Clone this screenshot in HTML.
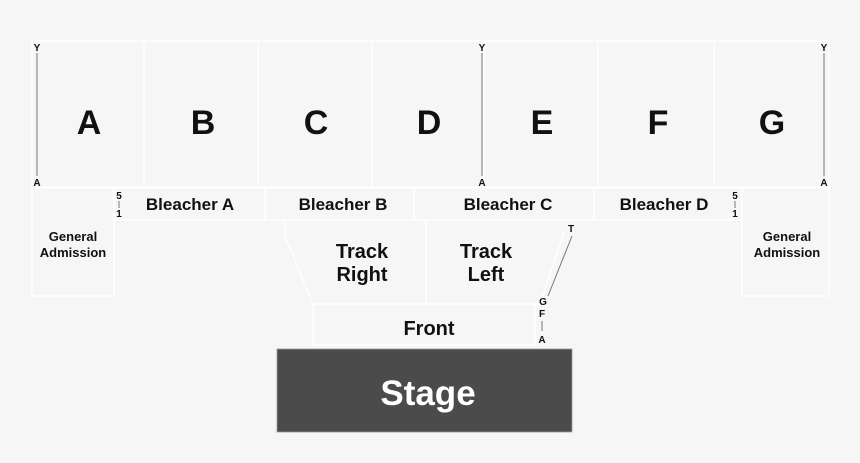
<!DOCTYPE html>
<html><head><style>
html,body{margin:0;padding:0;background:#f6f6f6;}
svg{display:block;}
text{font-family:"Liberation Sans",Arial,sans-serif;font-weight:bold;fill:#111;}
</style></head><body>
<svg width="860" height="463" viewBox="0 0 860 463" xmlns="http://www.w3.org/2000/svg">
<rect width="860" height="463" fill="#f6f6f6"/>
<g fill="none" stroke="#ffffff" stroke-width="1.3">
<rect x="32" y="41" width="797" height="146"/>
<line x1="144" y1="41" x2="144" y2="187"/>
<line x1="258" y1="41" x2="258" y2="187"/>
<line x1="372" y1="41" x2="372" y2="187"/>
<line x1="484" y1="41" x2="484" y2="187"/>
<line x1="598" y1="41" x2="598" y2="187"/>
<line x1="714" y1="41" x2="714" y2="187"/>
<rect x="32" y="188" width="82" height="108"/>
<rect x="742" y="188" width="87" height="108"/>
<rect x="114" y="188" width="628" height="32"/>
<line x1="265" y1="188" x2="265" y2="220"/>
<line x1="414" y1="188" x2="414" y2="220"/>
<line x1="594" y1="188" x2="594" y2="220"/>
<polyline points="285,220 285,236 313,304 426,304 426,220"/>
<polyline points="426,304 540,304 565,230"/>
<rect x="313" y="304" width="222" height="41"/>
</g>
<g stroke="#777" stroke-width="1">
<line x1="37" y1="53" x2="37" y2="176"/>
<line x1="482" y1="53" x2="482" y2="176"/>
<line x1="824" y1="53" x2="824" y2="176"/>
<line x1="119" y1="201" x2="119" y2="208"/>
<line x1="735" y1="201" x2="735" y2="208"/>
<line x1="572" y1="236" x2="548" y2="296"/>
<line x1="542" y1="321" x2="542" y2="331"/>
</g>
<g font-size="10" text-anchor="middle">
<text x="37" y="51">Y</text><text x="37" y="186">A</text>
<text x="482" y="51">Y</text><text x="482" y="186">A</text>
<text x="824" y="51">Y</text><text x="824" y="186">A</text>
<text x="119" y="199">5</text><text x="119" y="217">1</text>
<text x="735" y="199">5</text><text x="735" y="217">1</text>
<text x="571" y="232">T</text>
<text x="543" y="305">G</text><text x="542" y="317">F</text><text x="542" y="343">A</text>
</g>
<g font-size="34" text-anchor="middle">
<text x="89" y="134">A</text><text x="203" y="134">B</text><text x="316" y="134">C</text>
<text x="429" y="134">D</text><text x="542" y="134">E</text><text x="658" y="134">F</text><text x="772" y="134">G</text>
</g>
<g font-size="17" text-anchor="middle">
<text x="190" y="210">Bleacher A</text><text x="343" y="210">Bleacher B</text>
<text x="508" y="210">Bleacher C</text><text x="664" y="210">Bleacher D</text>
</g>
<g font-size="20" text-anchor="middle">
<text x="362" y="258">Track</text><text x="362" y="281">Right</text>
<text x="486" y="258">Track</text><text x="486" y="281">Left</text>
<text x="429" y="335">Front</text>
</g>
<g font-size="13" text-anchor="middle">
<text x="73" y="241">General</text><text x="73" y="257">Admission</text>
<text x="787" y="241">General</text><text x="787" y="257">Admission</text>
</g>
<rect x="277" y="349" width="295" height="83" fill="#4b4b4b" stroke="#999" stroke-width="0.8"/>
<text x="428" y="405" font-size="35" text-anchor="middle" style="fill:#fff">Stage</text>
</svg>
</body></html>
